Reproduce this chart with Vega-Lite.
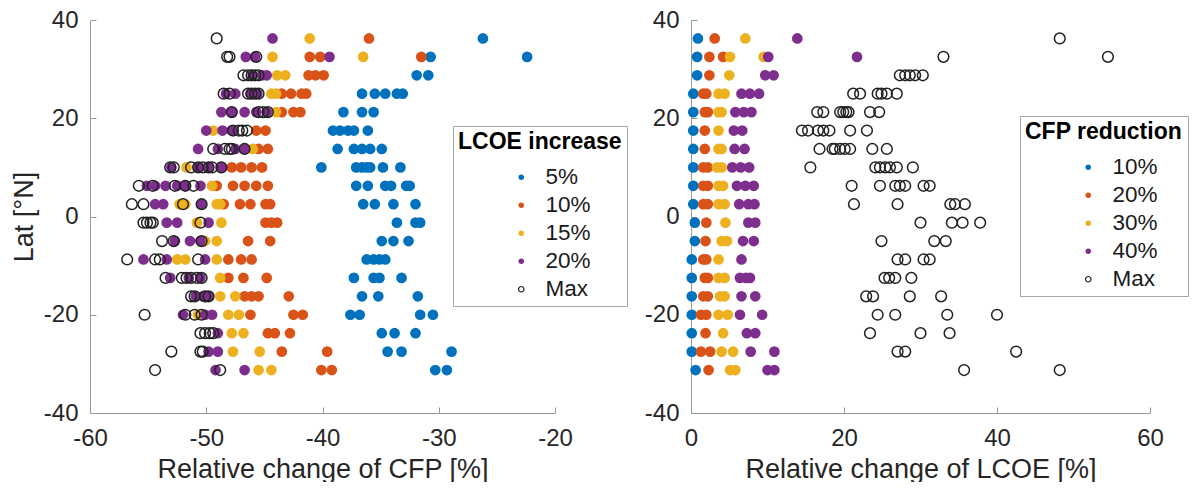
{
  "$schema": "https://vega.github.io/schema/vega-lite/v6.json",
  "padding": {"left": 10, "top": 8, "right": 0, "bottom": 0},
  "background": "white",
  "bounds": "flush",
  "spacing": 136,
  "config": {
    "font": "Liberation Sans",
    "view": {"stroke": null},
    "axis": {
      "grid": false,
      "domainColor": "#9a9a9a",
      "tickColor": "#9a9a9a",
      "tickSize": -6,
      "labelFlush": false,
      "labelFontSize": 24,
      "labelColor": "#262626",
      "labelExpr": "'' + datum.value",
      "titleFontSize": 27,
      "titleFontWeight": "normal",
      "titleColor": "#262626",
      "labelPadding": 18
    },
    "axisX": {"labelPadding": 19, "titlePadding": 6},
    "axisY": {"titlePadding": 5},
    "legend": {
      "orient": "none",
      "strokeColor": "#a6a6a6",
      "fillColor": "white",
      "padding": 5,
      "titleFontSize": 23,
      "titleFontWeight": "bold",
      "titleColor": "#000000",
      "titlePadding": 12,
      "labelFontSize": 22.5,
      "labelColor": "#1a1a1a",
      "labelAlign": "left",
      "symbolSize": 30,
      "symbolStrokeWidth": 1.2,
      "symbolType": "circle",
      "rowPadding": 5,
      "symbolOffset": 52,
      "labelOffset": 13
    }
  },
  "resolve": {"scale": {"fill": "independent", "stroke": "independent"}},
  "hconcat": [
    {
      "width": 465,
      "height": 393,
      "data": {"values": [
        {"s":"5%","y":36.25,"x":-26.2},
        {"s":"5%","y":32.5,"x":-30.7},{"s":"5%","y":32.5,"x":-22.4},
        {"s":"5%","y":28.75,"x":-31.9},{"s":"5%","y":28.75,"x":-30.9},
        {"s":"5%","y":25,"x":-36.6},{"s":"5%","y":25,"x":-35.5},{"s":"5%","y":25,"x":-34.6},{"s":"5%","y":25,"x":-33.6},{"s":"5%","y":25,"x":-33.1},
        {"s":"5%","y":21.25,"x":-38.2},{"s":"5%","y":21.25,"x":-36.6},{"s":"5%","y":21.25,"x":-35.6},
        {"s":"5%","y":17.5,"x":-39.1},{"s":"5%","y":17.5,"x":-38.5},{"s":"5%","y":17.5,"x":-37.8},{"s":"5%","y":17.5,"x":-37.3},{"s":"5%","y":17.5,"x":-36.1},
        {"s":"5%","y":13.75,"x":-38.7},{"s":"5%","y":13.75,"x":-37.3},{"s":"5%","y":13.75,"x":-36.6},{"s":"5%","y":13.75,"x":-35.9},{"s":"5%","y":13.75,"x":-34.9},
        {"s":"5%","y":10,"x":-40.1},{"s":"5%","y":10,"x":-37.1},{"s":"5%","y":10,"x":-36.6},{"s":"5%","y":10,"x":-36.2},{"s":"5%","y":10,"x":-35.9},{"s":"5%","y":10,"x":-34.8},{"s":"5%","y":10,"x":-33.3},
        {"s":"5%","y":6.25,"x":-37.1},{"s":"5%","y":6.25,"x":-36.1},{"s":"5%","y":6.25,"x":-34.6},{"s":"5%","y":6.25,"x":-34.1},{"s":"5%","y":6.25,"x":-32.8},{"s":"5%","y":6.25,"x":-32.5},
        {"s":"5%","y":2.5,"x":-36.5},{"s":"5%","y":2.5,"x":-35.5},{"s":"5%","y":2.5,"x":-33.9},{"s":"5%","y":2.5,"x":-32.0},
        {"s":"5%","y":-1.25,"x":-33.6},{"s":"5%","y":-1.25,"x":-32.0},{"s":"5%","y":-1.25,"x":-31.6},
        {"s":"5%","y":-5,"x":-34.9},{"s":"5%","y":-5,"x":-33.9},{"s":"5%","y":-5,"x":-32.6},
        {"s":"5%","y":-8.75,"x":-36.2},{"s":"5%","y":-8.75,"x":-35.6},{"s":"5%","y":-8.75,"x":-35.1},{"s":"5%","y":-8.75,"x":-34.6},
        {"s":"5%","y":-12.5,"x":-37.3},{"s":"5%","y":-12.5,"x":-35.6},{"s":"5%","y":-12.5,"x":-35.1},{"s":"5%","y":-12.5,"x":-33.2},
        {"s":"5%","y":-16.25,"x":-36.6},{"s":"5%","y":-16.25,"x":-35.2},{"s":"5%","y":-16.25,"x":-31.8},
        {"s":"5%","y":-20,"x":-37.6},{"s":"5%","y":-20,"x":-36.8},{"s":"5%","y":-20,"x":-31.6},{"s":"5%","y":-20,"x":-30.5},
        {"s":"5%","y":-23.75,"x":-34.9},{"s":"5%","y":-23.75,"x":-33.8},{"s":"5%","y":-23.75,"x":-32.0},
        {"s":"5%","y":-27.5,"x":-34.4},{"s":"5%","y":-27.5,"x":-33.2},{"s":"5%","y":-27.5,"x":-28.9},
        {"s":"5%","y":-31.25,"x":-30.3},{"s":"5%","y":-31.25,"x":-29.3},

        {"s":"10%","y":36.25,"x":-36.0},
        {"s":"10%","y":32.5,"x":-41.1},{"s":"10%","y":32.5,"x":-40.2},{"s":"10%","y":32.5,"x":-31.5},
        {"s":"10%","y":28.75,"x":-41.2},{"s":"10%","y":28.75,"x":-40.6},{"s":"10%","y":28.75,"x":-39.9},
        {"s":"10%","y":25,"x":-43.5},{"s":"10%","y":25,"x":-42.7},{"s":"10%","y":25,"x":-41.8},{"s":"10%","y":25,"x":-41.4},
        {"s":"10%","y":21.25,"x":-43.5},{"s":"10%","y":21.25,"x":-42.5},{"s":"10%","y":21.25,"x":-41.9},
        {"s":"10%","y":17.5,"x":-45.7},{"s":"10%","y":17.5,"x":-44.9},
        {"s":"10%","y":13.75,"x":-45.5},{"s":"10%","y":13.75,"x":-44.7},
        {"s":"10%","y":10,"x":-47.8},{"s":"10%","y":10,"x":-47.0},{"s":"10%","y":10,"x":-46.1},{"s":"10%","y":10,"x":-45.2},
        {"s":"10%","y":6.25,"x":-49.1},{"s":"10%","y":6.25,"x":-47.7},{"s":"10%","y":6.25,"x":-46.7},{"s":"10%","y":6.25,"x":-45.7},{"s":"10%","y":6.25,"x":-44.7},
        {"s":"10%","y":2.5,"x":-48.5},{"s":"10%","y":2.5,"x":-47.1},{"s":"10%","y":2.5,"x":-46.2},{"s":"10%","y":2.5,"x":-44.9},{"s":"10%","y":2.5,"x":-44.5},
        {"s":"10%","y":-1.25,"x":-44.9},{"s":"10%","y":-1.25,"x":-44.4},{"s":"10%","y":-1.25,"x":-43.9},
        {"s":"10%","y":-5,"x":-46.4},{"s":"10%","y":-5,"x":-44.5},
        {"s":"10%","y":-8.75,"x":-48.1},{"s":"10%","y":-8.75,"x":-47.0},{"s":"10%","y":-8.75,"x":-46.1},
        {"s":"10%","y":-12.5,"x":-48.1},{"s":"10%","y":-12.5,"x":-46.8},{"s":"10%","y":-12.5,"x":-44.8},
        {"s":"10%","y":-16.25,"x":-46.7},{"s":"10%","y":-16.25,"x":-46.1},{"s":"10%","y":-16.25,"x":-45.5},{"s":"10%","y":-16.25,"x":-42.9},
        {"s":"10%","y":-20,"x":-46.2},{"s":"10%","y":-20,"x":-42.5},{"s":"10%","y":-20,"x":-41.7},
        {"s":"10%","y":-23.75,"x":-44.7},{"s":"10%","y":-23.75,"x":-44.1},{"s":"10%","y":-23.75,"x":-42.8},
        {"s":"10%","y":-27.5,"x":-43.5},{"s":"10%","y":-27.5,"x":-39.6},
        {"s":"10%","y":-31.25,"x":-40.1},{"s":"10%","y":-31.25,"x":-39.2},

        {"s":"15%","y":36.25,"x":-41.1},
        {"s":"15%","y":32.5,"x":-44.3},{"s":"15%","y":32.5,"x":-36.5},
        {"s":"15%","y":28.75,"x":-43.9},{"s":"15%","y":28.75,"x":-43.2},
        {"s":"15%","y":25,"x":-44.4},{"s":"15%","y":25,"x":-44.0},
        {"s":"15%","y":21.25,"x":-44.0},
        {"s":"15%","y":17.5,"x":-49.4},
        {"s":"15%","y":13.75,"x":-46.0},
        {"s":"15%","y":10,"x":-51.7},
        {"s":"15%","y":6.25,"x":-49.5},
        {"s":"15%","y":2.5,"x":-52.3},{"s":"15%","y":2.5,"x":-51.8},{"s":"15%","y":2.5,"x":-49.1},{"s":"15%","y":2.5,"x":-48.8},
        {"s":"15%","y":-1.25,"x":-50.8},{"s":"15%","y":-1.25,"x":-48.7},
        {"s":"15%","y":-5,"x":-50.1},{"s":"15%","y":-5,"x":-49.1},
        {"s":"15%","y":-8.75,"x":-52.5},{"s":"15%","y":-8.75,"x":-51.8},{"s":"15%","y":-8.75,"x":-49.1},
        {"s":"15%","y":-12.5,"x":-48.8},
        {"s":"15%","y":-16.25,"x":-48.8},{"s":"15%","y":-16.25,"x":-47.5},
        {"s":"15%","y":-20,"x":-50.7},{"s":"15%","y":-20,"x":-48.1},{"s":"15%","y":-20,"x":-47.2},
        {"s":"15%","y":-23.75,"x":-47.8},{"s":"15%","y":-23.75,"x":-46.8},
        {"s":"15%","y":-27.5,"x":-47.7},{"s":"15%","y":-27.5,"x":-45.4},
        {"s":"15%","y":-31.25,"x":-45.5},{"s":"15%","y":-31.25,"x":-44.4},

        {"s":"20%","y":36.25,"x":-44.3},
        {"s":"20%","y":32.5,"x":-46.6},{"s":"20%","y":32.5,"x":-45.8},{"s":"20%","y":32.5,"x":-39.4},
        {"s":"20%","y":28.75,"x":-46.0},{"s":"20%","y":28.75,"x":-45.2},{"s":"20%","y":28.75,"x":-44.8},
        {"s":"20%","y":25,"x":-48.3},{"s":"20%","y":25,"x":-47.5},{"s":"20%","y":25,"x":-46.2},{"s":"20%","y":25,"x":-45.6},
        {"s":"20%","y":21.25,"x":-48.7},{"s":"20%","y":21.25,"x":-47.8},{"s":"20%","y":21.25,"x":-46.7},{"s":"20%","y":21.25,"x":-45.7},{"s":"20%","y":21.25,"x":-44.8},
        {"s":"20%","y":17.5,"x":-50.0},{"s":"20%","y":17.5,"x":-48.6},{"s":"20%","y":17.5,"x":-47.8},
        {"s":"20%","y":13.75,"x":-50.7},{"s":"20%","y":13.75,"x":-49.0},{"s":"20%","y":13.75,"x":-47.5},{"s":"20%","y":13.75,"x":-46.7},
        {"s":"20%","y":10,"x":-53.0},{"s":"20%","y":10,"x":-50.7},{"s":"20%","y":10,"x":-49.8},{"s":"20%","y":10,"x":-48.7},
        {"s":"20%","y":6.25,"x":-55.1},{"s":"20%","y":6.25,"x":-54.4},{"s":"20%","y":6.25,"x":-53.5},{"s":"20%","y":6.25,"x":-52.5},{"s":"20%","y":6.25,"x":-51.8},{"s":"20%","y":6.25,"x":-50.5},
        {"s":"20%","y":2.5,"x":-54.4},{"s":"20%","y":2.5,"x":-53.7},{"s":"20%","y":2.5,"x":-50.4},
        {"s":"20%","y":-1.25,"x":-53.4},{"s":"20%","y":-1.25,"x":-52.5},{"s":"20%","y":-1.25,"x":-49.8},
        {"s":"20%","y":-5,"x":-52.7},{"s":"20%","y":-5,"x":-51.4},{"s":"20%","y":-5,"x":-50.5},
        {"s":"20%","y":-8.75,"x":-55.4},{"s":"20%","y":-8.75,"x":-53.4},{"s":"20%","y":-8.75,"x":-50.1},
        {"s":"20%","y":-12.5,"x":-53.1},{"s":"20%","y":-12.5,"x":-51.5},{"s":"20%","y":-12.5,"x":-50.5},
        {"s":"20%","y":-16.25,"x":-50.9},{"s":"20%","y":-16.25,"x":-50.3},{"s":"20%","y":-16.25,"x":-49.8},
        {"s":"20%","y":-20,"x":-52.0},{"s":"20%","y":-20,"x":-50.1},{"s":"20%","y":-20,"x":-49.5},
        {"s":"20%","y":-23.75,"x":-49.0},
        {"s":"20%","y":-27.5,"x":-49.8},{"s":"20%","y":-27.5,"x":-49.0},
        {"s":"20%","y":-31.25,"x":-49.2},{"s":"20%","y":-31.25,"x":-46.7},

        {"s":"Max","y":36.25,"x":-49.1},
        {"s":"Max","y":32.5,"x":-48.2},{"s":"Max","y":32.5,"x":-48.0},{"s":"Max","y":32.5,"x":-45.7},
        {"s":"Max","y":28.75,"x":-46.8},{"s":"Max","y":28.75,"x":-46.4},{"s":"Max","y":28.75,"x":-46.1},{"s":"Max","y":28.75,"x":-45.8},{"s":"Max","y":28.75,"x":-45.5},
        {"s":"Max","y":25,"x":-48.5},{"s":"Max","y":25,"x":-48.0},{"s":"Max","y":25,"x":-46.4},{"s":"Max","y":25,"x":-46.1},{"s":"Max","y":25,"x":-45.8},{"s":"Max","y":25,"x":-45.5},
        {"s":"Max","y":21.25,"x":-47.8},{"s":"Max","y":21.25,"x":-45.5},{"s":"Max","y":21.25,"x":-45.1},{"s":"Max","y":21.25,"x":-44.7},
        {"s":"Max","y":17.5,"x":-47.7},{"s":"Max","y":17.5,"x":-47.2},{"s":"Max","y":17.5,"x":-46.9},{"s":"Max","y":17.5,"x":-46.5},
        {"s":"Max","y":13.75,"x":-49.4},{"s":"Max","y":13.75,"x":-48.4},{"s":"Max","y":13.75,"x":-48.0},{"s":"Max","y":13.75,"x":-47.8},{"s":"Max","y":13.75,"x":-46.7},
        {"s":"Max","y":10,"x":-53.1},{"s":"Max","y":10,"x":-52.8},{"s":"Max","y":10,"x":-51.3},{"s":"Max","y":10,"x":-50.7},{"s":"Max","y":10,"x":-50.3},{"s":"Max","y":10,"x":-49.8},{"s":"Max","y":10,"x":-49.5},{"s":"Max","y":10,"x":-48.7},
        {"s":"Max","y":6.25,"x":-55.8},{"s":"Max","y":6.25,"x":-54.6},{"s":"Max","y":6.25,"x":-52.7},{"s":"Max","y":6.25,"x":-51.8},{"s":"Max","y":6.25,"x":-51.1},
        {"s":"Max","y":2.5,"x":-56.4},{"s":"Max","y":2.5,"x":-55.4},{"s":"Max","y":2.5,"x":-52.0},{"s":"Max","y":2.5,"x":-50.4},
        {"s":"Max","y":-1.25,"x":-55.4},{"s":"Max","y":-1.25,"x":-55.1},{"s":"Max","y":-1.25,"x":-54.8},{"s":"Max","y":-1.25,"x":-54.6},{"s":"Max","y":-1.25,"x":-50.5},
        {"s":"Max","y":-5,"x":-53.8},{"s":"Max","y":-5,"x":-52.8},{"s":"Max","y":-5,"x":-50.4},
        {"s":"Max","y":-8.75,"x":-56.8},{"s":"Max","y":-8.75,"x":-54.4},{"s":"Max","y":-8.75,"x":-54.0},{"s":"Max","y":-8.75,"x":-50.7},
        {"s":"Max","y":-12.5,"x":-53.5},{"s":"Max","y":-12.5,"x":-52.1},{"s":"Max","y":-12.5,"x":-51.7},{"s":"Max","y":-12.5,"x":-51.3},{"s":"Max","y":-12.5,"x":-50.8},{"s":"Max","y":-12.5,"x":-50.4},
        {"s":"Max","y":-16.25,"x":-51.3},{"s":"Max","y":-16.25,"x":-51.0},{"s":"Max","y":-16.25,"x":-50.1},{"s":"Max","y":-16.25,"x":-49.8},
        {"s":"Max","y":-20,"x":-55.3},{"s":"Max","y":-20,"x":-51.8},{"s":"Max","y":-20,"x":-51.0},{"s":"Max","y":-20,"x":-50.4},
        {"s":"Max","y":-23.75,"x":-50.5},{"s":"Max","y":-23.75,"x":-50.1},{"s":"Max","y":-23.75,"x":-49.7},{"s":"Max","y":-23.75,"x":-49.4},
        {"s":"Max","y":-27.5,"x":-53.0},{"s":"Max","y":-27.5,"x":-50.5},{"s":"Max","y":-27.5,"x":-50.3},
        {"s":"Max","y":-31.25,"x":-54.4},{"s":"Max","y":-31.25,"x":-48.8}
      ]},
      "mark": {"type": "circle", "size": 115, "opacity": 1, "strokeWidth": 1.5},
      "encoding": {
        "x": {"field": "x", "type": "quantitative", "scale": {"domain": [-60, -20], "nice": false, "zero": false},
              "axis": {"values": [-60, -50, -40, -30, -20], "title": "Relative change of CFP [%]"}},
        "y": {"field": "y", "type": "quantitative", "scale": {"domain": [-40, 40], "nice": false},
              "axis": {"values": [-40, -20, 0, 20, 40], "title": "Lat [°N]"}},
        "fill": {"field": "s", "type": "nominal",
                 "scale": {"domain": ["5%", "10%", "15%", "20%", "Max"], "range": ["#0072BD", "#D95319", "#EDB120", "#7E2F8E", "transparent"]},
                 "legend": {"title": "LCOE increase", "legendX": 363, "legendY": 106}},
        "stroke": {"field": "s", "type": "nominal",
                   "scale": {"domain": ["5%", "10%", "15%", "20%", "Max"], "range": ["transparent", "transparent", "transparent", "transparent", "#222222"]},
                   "legend": {"title": "LCOE increase", "legendX": 363, "legendY": 106}}
      }
    },
    {
      "width": 459,
      "height": 393,
      "data": {"values": [
        {"s":"10%","y":36.25,"x":0.9},{"s":"10%","y":32.5,"x":0.8},{"s":"10%","y":28.75,"x":0.8},{"s":"10%","y":25,"x":0.3},
        {"s":"10%","y":21.25,"x":0.3},{"s":"10%","y":17.5,"x":0.3},{"s":"10%","y":13.75,"x":0.3},{"s":"10%","y":10,"x":0.3},
        {"s":"10%","y":6.25,"x":0.3},{"s":"10%","y":2.5,"x":0.3},{"s":"10%","y":-1.25,"x":0.5},{"s":"10%","y":-5,"x":0.5},
        {"s":"10%","y":-8.75,"x":0.1},{"s":"10%","y":-12.5,"x":0.1},{"s":"10%","y":-16.25,"x":0.1},{"s":"10%","y":-20,"x":0.1},
        {"s":"10%","y":-23.75,"x":0.1},{"s":"10%","y":-27.5,"x":0.1},{"s":"10%","y":-31.25,"x":0.6},

        {"s":"20%","y":36.25,"x":3.1},
        {"s":"20%","y":32.5,"x":2.4},{"s":"20%","y":32.5,"x":4.2},
        {"s":"20%","y":28.75,"x":2.4},
        {"s":"20%","y":25,"x":1.6},{"s":"20%","y":25,"x":2.0},
        {"s":"20%","y":21.25,"x":1.8},{"s":"20%","y":21.25,"x":2.2},
        {"s":"20%","y":17.5,"x":1.8},
        {"s":"20%","y":13.75,"x":1.8},
        {"s":"20%","y":10,"x":1.6},{"s":"20%","y":10,"x":2.2},
        {"s":"20%","y":6.25,"x":1.6},{"s":"20%","y":6.25,"x":2.2},
        {"s":"20%","y":2.5,"x":1.6},{"s":"20%","y":2.5,"x":2.2},
        {"s":"20%","y":-1.25,"x":2.0},
        {"s":"20%","y":-5,"x":1.9},
        {"s":"20%","y":-8.75,"x":1.6},{"s":"20%","y":-8.75,"x":2.0},
        {"s":"20%","y":-12.5,"x":1.8},{"s":"20%","y":-12.5,"x":2.2},
        {"s":"20%","y":-16.25,"x":1.6},{"s":"20%","y":-16.25,"x":2.2},
        {"s":"20%","y":-20,"x":1.3},{"s":"20%","y":-20,"x":2.0},
        {"s":"20%","y":-23.75,"x":1.9},
        {"s":"20%","y":-27.5,"x":1.3},{"s":"20%","y":-27.5,"x":2.5},
        {"s":"20%","y":-31.25,"x":2.3},

        {"s":"30%","y":36.25,"x":7.1},
        {"s":"30%","y":32.5,"x":5.1},{"s":"30%","y":32.5,"x":9.5},
        {"s":"30%","y":28.75,"x":5.0},
        {"s":"30%","y":25,"x":3.6},{"s":"30%","y":25,"x":4.4},
        {"s":"30%","y":21.25,"x":3.6},{"s":"30%","y":21.25,"x":4.0},
        {"s":"30%","y":17.5,"x":3.6},
        {"s":"30%","y":13.75,"x":3.6},{"s":"30%","y":13.75,"x":4.0},
        {"s":"30%","y":10,"x":3.4},{"s":"30%","y":10,"x":4.0},
        {"s":"30%","y":6.25,"x":3.6},{"s":"30%","y":6.25,"x":4.2},
        {"s":"30%","y":2.5,"x":3.6},{"s":"30%","y":2.5,"x":4.4},
        {"s":"30%","y":-1.25,"x":4.5},
        {"s":"30%","y":-5,"x":4.0},{"s":"30%","y":-5,"x":4.7},
        {"s":"30%","y":-8.75,"x":3.6},
        {"s":"30%","y":-12.5,"x":3.6},{"s":"30%","y":-12.5,"x":4.4},
        {"s":"30%","y":-16.25,"x":3.8},{"s":"30%","y":-16.25,"x":4.4},
        {"s":"30%","y":-20,"x":3.6},{"s":"30%","y":-20,"x":4.8},
        {"s":"30%","y":-23.75,"x":4.2},
        {"s":"30%","y":-27.5,"x":4.0},{"s":"30%","y":-27.5,"x":5.5},
        {"s":"30%","y":-31.25,"x":5.1},{"s":"30%","y":-31.25,"x":5.8},

        {"s":"40%","y":36.25,"x":13.9},
        {"s":"40%","y":32.5,"x":10.1},{"s":"40%","y":32.5,"x":21.7},
        {"s":"40%","y":28.75,"x":9.7},{"s":"40%","y":28.75,"x":10.8},
        {"s":"40%","y":25,"x":6.6},{"s":"40%","y":25,"x":7.7},{"s":"40%","y":25,"x":8.9},
        {"s":"40%","y":21.25,"x":5.8},{"s":"40%","y":21.25,"x":6.9},{"s":"40%","y":21.25,"x":7.9},
        {"s":"40%","y":17.5,"x":5.6},{"s":"40%","y":17.5,"x":6.7},
        {"s":"40%","y":13.75,"x":5.7},{"s":"40%","y":13.75,"x":7.0},
        {"s":"40%","y":10,"x":5.4},{"s":"40%","y":10,"x":6.5},{"s":"40%","y":10,"x":7.6},
        {"s":"40%","y":6.25,"x":6.0},{"s":"40%","y":6.25,"x":7.1},{"s":"40%","y":6.25,"x":8.2},
        {"s":"40%","y":2.5,"x":6.3},{"s":"40%","y":2.5,"x":7.5},{"s":"40%","y":2.5,"x":8.3},
        {"s":"40%","y":-1.25,"x":7.5},{"s":"40%","y":-1.25,"x":8.4},
        {"s":"40%","y":-5,"x":6.8},{"s":"40%","y":-5,"x":8.2},
        {"s":"40%","y":-8.75,"x":6.6},
        {"s":"40%","y":-12.5,"x":6.4},{"s":"40%","y":-12.5,"x":7.2},{"s":"40%","y":-12.5,"x":7.7},
        {"s":"40%","y":-16.25,"x":6.6},{"s":"40%","y":-16.25,"x":8.4},
        {"s":"40%","y":-20,"x":6.4},{"s":"40%","y":-20,"x":9.3},
        {"s":"40%","y":-23.75,"x":7.3},{"s":"40%","y":-23.75,"x":8.4},
        {"s":"40%","y":-27.5,"x":7.8},{"s":"40%","y":-27.5,"x":10.9},
        {"s":"40%","y":-31.25,"x":10.0},{"s":"40%","y":-31.25,"x":10.9},

        {"s":"Max","y":36.25,"x":48.2},
        {"s":"Max","y":32.5,"x":33.0},{"s":"Max","y":32.5,"x":54.5},
        {"s":"Max","y":28.75,"x":27.3},{"s":"Max","y":28.75,"x":28.0},{"s":"Max","y":28.75,"x":28.6},{"s":"Max","y":28.75,"x":29.3},{"s":"Max","y":28.75,"x":30.3},
        {"s":"Max","y":25,"x":21.2},{"s":"Max","y":25,"x":22.1},{"s":"Max","y":25,"x":24.4},{"s":"Max","y":25,"x":24.9},{"s":"Max","y":25,"x":25.6},{"s":"Max","y":25,"x":26.9},
        {"s":"Max","y":21.25,"x":16.5},{"s":"Max","y":21.25,"x":17.3},{"s":"Max","y":21.25,"x":19.5},{"s":"Max","y":21.25,"x":19.9},{"s":"Max","y":21.25,"x":20.3},{"s":"Max","y":21.25,"x":20.6},{"s":"Max","y":21.25,"x":23.4},{"s":"Max","y":21.25,"x":24.6},
        {"s":"Max","y":17.5,"x":14.5},{"s":"Max","y":17.5,"x":15.3},{"s":"Max","y":17.5,"x":16.6},{"s":"Max","y":17.5,"x":17.3},{"s":"Max","y":17.5,"x":18.1},{"s":"Max","y":17.5,"x":20.8},{"s":"Max","y":17.5,"x":23.0},
        {"s":"Max","y":13.75,"x":16.8},{"s":"Max","y":13.75,"x":18.5},{"s":"Max","y":13.75,"x":18.8},{"s":"Max","y":13.75,"x":19.5},{"s":"Max","y":13.75,"x":20.1},{"s":"Max","y":13.75,"x":20.8},{"s":"Max","y":13.75,"x":23.7},{"s":"Max","y":13.75,"x":25.6},
        {"s":"Max","y":10,"x":15.6},{"s":"Max","y":10,"x":24.1},{"s":"Max","y":10,"x":24.7},{"s":"Max","y":10,"x":25.4},{"s":"Max","y":10,"x":26.0},{"s":"Max","y":10,"x":26.9},{"s":"Max","y":10,"x":29.0},
        {"s":"Max","y":6.25,"x":21.0},{"s":"Max","y":6.25,"x":24.7},{"s":"Max","y":6.25,"x":26.7},{"s":"Max","y":6.25,"x":27.3},{"s":"Max","y":6.25,"x":28.0},{"s":"Max","y":6.25,"x":30.4},{"s":"Max","y":6.25,"x":31.2},
        {"s":"Max","y":2.5,"x":21.3},{"s":"Max","y":2.5,"x":27.0},{"s":"Max","y":2.5,"x":33.9},{"s":"Max","y":2.5,"x":34.5},{"s":"Max","y":2.5,"x":35.8},
        {"s":"Max","y":-1.25,"x":30.0},{"s":"Max","y":-1.25,"x":34.1},{"s":"Max","y":-1.25,"x":35.5},{"s":"Max","y":-1.25,"x":37.8},
        {"s":"Max","y":-5,"x":24.9},{"s":"Max","y":-5,"x":31.8},{"s":"Max","y":-5,"x":33.3},
        {"s":"Max","y":-8.75,"x":27.0},{"s":"Max","y":-8.75,"x":28.0},{"s":"Max","y":-8.75,"x":30.4},{"s":"Max","y":-8.75,"x":31.2},
        {"s":"Max","y":-12.5,"x":25.3},{"s":"Max","y":-12.5,"x":25.9},{"s":"Max","y":-12.5,"x":26.7},{"s":"Max","y":-12.5,"x":28.8},
        {"s":"Max","y":-16.25,"x":22.9},{"s":"Max","y":-16.25,"x":23.8},{"s":"Max","y":-16.25,"x":28.6},{"s":"Max","y":-16.25,"x":32.7},
        {"s":"Max","y":-20,"x":24.4},{"s":"Max","y":-20,"x":26.7},{"s":"Max","y":-20,"x":33.5},{"s":"Max","y":-20,"x":40.0},
        {"s":"Max","y":-23.75,"x":23.4},{"s":"Max","y":-23.75,"x":30.0},{"s":"Max","y":-23.75,"x":33.8},
        {"s":"Max","y":-27.5,"x":27.0},{"s":"Max","y":-27.5,"x":28.0},{"s":"Max","y":-27.5,"x":42.5},
        {"s":"Max","y":-31.25,"x":35.7},{"s":"Max","y":-31.25,"x":48.2}
      ]},
      "mark": {"type": "circle", "size": 115, "opacity": 1, "strokeWidth": 1.5},
      "encoding": {
        "x": {"field": "x", "type": "quantitative", "scale": {"domain": [0, 60], "nice": false},
              "axis": {"values": [0, 20, 40, 60], "title": "Relative change of LCOE [%]"}},
        "y": {"field": "y", "type": "quantitative", "scale": {"domain": [-40, 40], "nice": false},
              "axis": {"values": [-40, -20, 0, 20, 40], "title": null}},
        "fill": {"field": "s", "type": "nominal",
                 "scale": {"domain": ["10%", "20%", "30%", "40%", "Max"], "range": ["#0072BD", "#D95319", "#EDB120", "#7E2F8E", "transparent"]},
                 "legend": {"title": "CFP reduction", "legendX": 329, "legendY": 96}},
        "stroke": {"field": "s", "type": "nominal",
                   "scale": {"domain": ["10%", "20%", "30%", "40%", "Max"], "range": ["transparent", "transparent", "transparent", "transparent", "#222222"]},
                   "legend": {"title": "CFP reduction", "legendX": 329, "legendY": 96}}
      }
    }
  ]
}
